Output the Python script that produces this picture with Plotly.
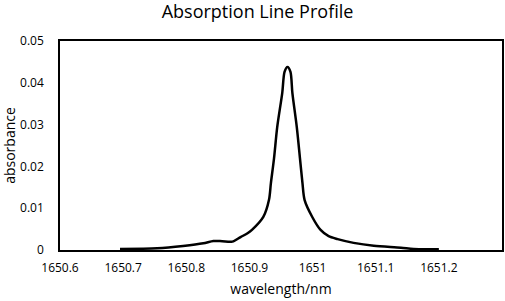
import plotly.graph_objects as go

wavelength = [1650.695, 1650.754, 1650.795, 1650.827, 1650.843, 1650.857, 1650.873,
              1650.886, 1650.897, 1650.904, 1650.922, 1650.931, 1650.934, 1650.939,
              1650.944, 1650.952, 1650.9556, 1650.9603, 1650.965, 1650.968,
              1650.975, 1650.980, 1650.984, 1650.9873, 1650.9995,
              1651.0127, 1651.0254, 1651.0397, 1651.065, 1651.097, 1651.140,
              1651.160, 1651.200]
absorbance = [0.00024, 0.0004, 0.00096, 0.0016, 0.00215, 0.0021, 0.002,
              0.0031, 0.004, 0.0048, 0.0079, 0.012, 0.016, 0.022,
              0.0294, 0.0376, 0.0426, 0.0438, 0.0426, 0.0376,
              0.0294, 0.022, 0.016, 0.012, 0.0079,
              0.0048, 0.0033, 0.0026, 0.0017, 0.001, 0.00055,
              0.00024, 0.0002]

x_ticks = [1650.6, 1650.7, 1650.8, 1650.9, 1651.0, 1651.1, 1651.2]
x_ticktext = ["1650.6", "1650.7", "1650.8", "1650.9", "1651", "1651.1", "1651.2"]
y_ticks = [0, 0.01, 0.02, 0.03, 0.04, 0.05]
y_ticktext = ["0", "0.01", "0.02", "0.03", "0.04", "0.05"]

font_family = "Open Sans"

fig = go.Figure()
fig.add_trace(go.Scatter(
    x=wavelength, y=absorbance, mode="lines",
    line=dict(color="black", width=2.5, shape="spline", smoothing=0.8),
    showlegend=False,
))

fig.update_layout(
    width=505, height=301,
    margin=dict(l=60, r=3, t=41, b=51),
    paper_bgcolor="white", plot_bgcolor="white",
    font=dict(family=font_family, size=12, color="black"),
    title=dict(text="Absorption Line Profile", x=0.51, xanchor="center",
               y=0.96, yanchor="middle",
               font=dict(family=font_family, size=18, color="black")),
)
fig.update_xaxes(
    range=[1650.6, 1651.3], tickvals=x_ticks, ticktext=x_ticktext,
    showgrid=False, zeroline=False, showline=True, linecolor="black",
    linewidth=1.5, mirror=True, ticks="", ticklabelstandoff=6, automargin=False,
    title=dict(text="wavelength/nm", font=dict(size=14), standoff=9),
)
fig.update_yaxes(
    range=[0, 0.05], tickvals=y_ticks, ticktext=y_ticktext,
    showgrid=False, zeroline=False, showline=True, linecolor="black",
    linewidth=1.5, mirror=True, ticks="", ticklabelstandoff=12, automargin=False,
    title=dict(text="absorbance", font=dict(size=14), standoff=4),
)

fig.write_html("out.html", config={"displayModeBar": False},
               post_script="document.body.style.margin='0';")
